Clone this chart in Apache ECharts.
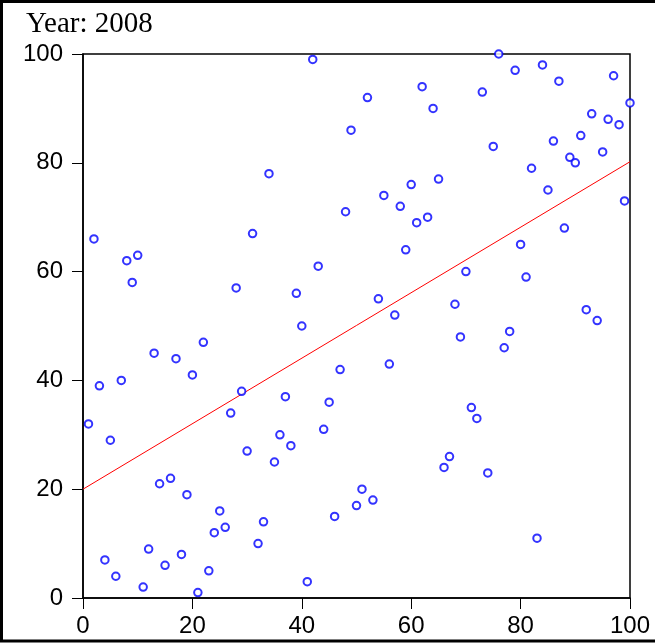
<!DOCTYPE html>
<html>
<head>
<meta charset="utf-8">
<script src="https://cdn.jsdelivr.net/npm/echarts@6/dist/echarts.min.js"></script>
<style>
html,body{margin:0;padding:0;background:#fff;}
#chart{width:655px;height:643px;}
</style>
</head>
<body>
<div id="chart"></div>
<script>
const titleText = "Year: 2008";
const xValues = [1,2,3,4,5,6,7,8,9,10,11,12,13,14,15,16,17,18,19,20,21,22,23,24,25,26,27,28,29,30,31,32,33,34,35,36,37,38,39,40,41,42,43,44,45,46,47,48,49,50,51,52,53,54,55,56,57,58,59,60,61,62,63,64,65,66,67,68,69,70,71,72,73,74,75,76,77,78,79,80,81,82,83,84,85,86,87,88,89,90,91,92,93,94,95,96,97,98,99,100];
const yValues = [32,66,39,7,29,4,40,62,58,63,2,9,45,21,6,22,44,8,19,41,1,47,5,12,16,13,34,57,38,27,67,10,14,78,25,30,37,28,56,50,3,99,61,31,36,15,42,71,86,17,20,92,18,55,74,43,52,72,64,76,69,94,70,90,77,24,26,54,48,60,35,33,93,23,83,100,46,49,97,65,59,79,11,98,75,84,95,68,81,80,85,53,89,51,82,88,96,87,73,91];
const fitX = [0, 100];
const fitY = [20.0, 80.2];
const tickValues = [0, 20, 40, 60, 80, 100];

const points = xValues.map((x, i) => [x, yValues[i]]);
const fitLine = fitX.map((x, i) => [x, fitY[i]]);

const chart = echarts.init(document.getElementById('chart'), null, {renderer: 'canvas'});
const axisCommon = {
  type: 'value', min: tickValues[0], max: tickValues[tickValues.length - 1], interval: 20,
  splitLine: {show: false},
  axisLine: {show: true, onZero: false, lineStyle: {color: '#000', width: 1.5}},
  axisTick: {show: true, length: 11, lineStyle: {color: '#000', width: 1}},
  axisLabel: {color: '#000', fontSize: 24, fontFamily: 'Liberation Sans, Arial, sans-serif'}
};
chart.setOption({
  animation: false,
  backgroundColor: '#fff',
  title: {
    text: titleText, left: 21, top: 5,
    textStyle: {fontFamily: 'Liberation Serif, Times New Roman, serif', fontSize: 29, fontWeight: 'normal', color: '#000'}
  },
  grid: {left: 83, right: 25, top: 54, bottom: 45, show: true, borderColor: '#000', borderWidth: 1.5, containLabel: false},
  xAxis: Object.assign({}, axisCommon, {axisLabel: Object.assign({}, axisCommon.axisLabel, {margin: 16})}),
  yAxis: Object.assign({}, axisCommon, {axisLabel: Object.assign({}, axisCommon.axisLabel, {margin: 20})}),
  graphic: [{
    type: 'rect', shape: {x: 1.5, y: 1.5, width: 670, height: 639.5},
    style: {fill: 'none', stroke: '#000', lineWidth: 3}, z: 100, silent: true
  }],
  series: [
    {
      type: 'line', data: fitLine, showSymbol: false, symbol: 'none',
      lineStyle: {color: '#ff0000', width: 1}, z: 2
    },
    {
      type: 'scatter', data: points, symbol: 'emptyCircle', symbolSize: 7.5, clip: true,
      itemStyle: {color: '#0000ff', borderColor: '#0000ff', borderWidth: 1.3}, z: 3
    }
  ]
});
</script>
</body>
</html>
